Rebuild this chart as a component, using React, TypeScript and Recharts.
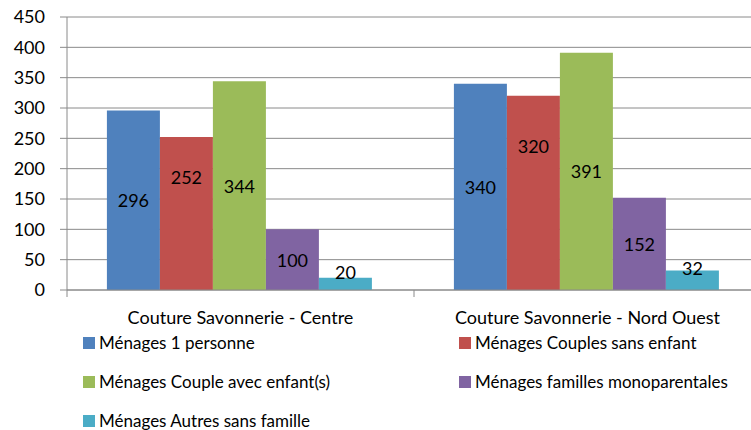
import React from "react";
import { BarChart, Bar, XAxis, YAxis, CartesianGrid, Legend, LabelList } from "recharts";

const categories = ["Couture Savonnerie - Centre", "Couture Savonnerie - Nord Ouest"];
const seriesNames = [
  "Ménages 1 personne",
  "Ménages Couples sans enfant",
  "Ménages Couple avec enfant(s)",
  "Ménages familles monoparentales",
  "Ménages Autres sans famille",
];
const seriesKeys = ["s1", "s2", "s3", "s4", "s5"];
const seriesColors = ["#4F81BD", "#C0504D", "#9BBB59", "#8064A2", "#4BACC6"];
const personne1 = [296, 340];
const couplesSansEnfant = [252, 320];
const coupleAvecEnfants = [344, 391];
const monoparentales = [100, 152];
const autresSansFamille = [20, 32];
const yTicks = [0, 50, 100, 150, 200, 250, 300, 350, 400, 450];

const seriesValues = [personne1, couplesSansEnfant, coupleAvecEnfants, monoparentales, autresSansFamille];
const data = categories.map((name, i) => {
  const row: any = { name };
  seriesKeys.forEach((k, j) => (row[k] = seriesValues[j][i]));
  return row;
});

const FONT = "Lato, 'Liberation Sans', sans-serif";
const GRID = "#8a8a8a";

const makeLabel = (mode: "center" | "upper" | "above") => (props: any) => {
  const { x, y, width, height, value } = props;
  let cy = y + height / 2;
  if (mode === "upper") cy = y + height * 0.26;
  if (mode === "above") cy = y + height / 2 - 12;
  return (
    <text x={x + width / 2} y={cy} textAnchor="middle" dominantBaseline="central" fontFamily={FONT} fontSize={18} fill="#000">
      {value}
    </text>
  );
};
const labelModes: ("center" | "upper" | "above")[] = ["center", "upper", "center", "center", "above"];

const XTick = (props: any) => {
  const { x, y, payload, index, width, visibleTicksCount } = props;
  const half = width / (2 * (visibleTicksCount || 2));
  return (
    <g>
      <line x1={x - half} x2={x - half} y1={y - 7} y2={y} stroke={GRID} />
      {index === (visibleTicksCount || 2) - 1 && <line x1={x + half} x2={x + half} y1={y - 7} y2={y} stroke={GRID} />}
      <text x={x} y={y + 20} textAnchor="middle" dominantBaseline="central" fontFamily={FONT} fontSize={18} fill="#000">
        {payload.value}
      </text>
    </g>
  );
};

const legendPos = [
  { left: 75, top: 3 },
  { left: 451, top: 3 },
  { left: 75, top: 42 },
  { left: 451, top: 42 },
  { left: 75, top: 81 },
];

const LegendContent = () => (
  <div style={{ position: "relative", width: 760, height: 100, fontFamily: FONT, fontSize: 17, color: "#000" }}>
    {seriesNames.map((n, i) => (
      <div key={n} style={{ position: "absolute", left: legendPos[i].left, top: legendPos[i].top, height: 20, lineHeight: "20px", display: "flex", alignItems: "center", whiteSpace: "nowrap" }}>
        <span style={{ display: "inline-block", width: 12, height: 12, background: seriesColors[i], marginRight: 4 }} />
        <span>{n}</span>
      </div>
    ))}
  </div>
);

export default function App() {
  return (
    <div style={{ position: "absolute", left: 8, top: 0, width: 743, height: 430, overflow: "hidden", fontFamily: FONT }}>
      <BarChart width={760} height={430} data={data} margin={{ top: 17, right: 7, left: 0, bottom: 0 }} barCategoryGap="11.5%" barGap={0}>
        <CartesianGrid vertical={false} stroke={GRID} strokeWidth={1} />
        <XAxis dataKey="name" height={40} axisLine={{ stroke: GRID }} tickLine={false} tickSize={7} tickMargin={0} tick={<XTick />} interval={0} />
        <YAxis
          domain={[0, 450]}
          ticks={yTicks}
          width={59}
          axisLine={{ stroke: GRID }}
          tickLine={{ stroke: GRID }}
          tickSize={7}
          tickMargin={15}
          tick={{ fontFamily: FONT, fontSize: 18, fill: "#000" }}
          interval={0}
        />
        <Legend verticalAlign="bottom" content={<LegendContent />} wrapperStyle={{ left: 0, bottom: 0, width: 760, height: 100 }} />
        {seriesKeys.map((k, i) => (
          <Bar key={k} dataKey={k} name={seriesNames[i]} fill={seriesColors[i]} isAnimationActive={false}>
            <LabelList dataKey={k} content={makeLabel(labelModes[i])} />
          </Bar>
        ))}
      </BarChart>
    </div>
  );
}
